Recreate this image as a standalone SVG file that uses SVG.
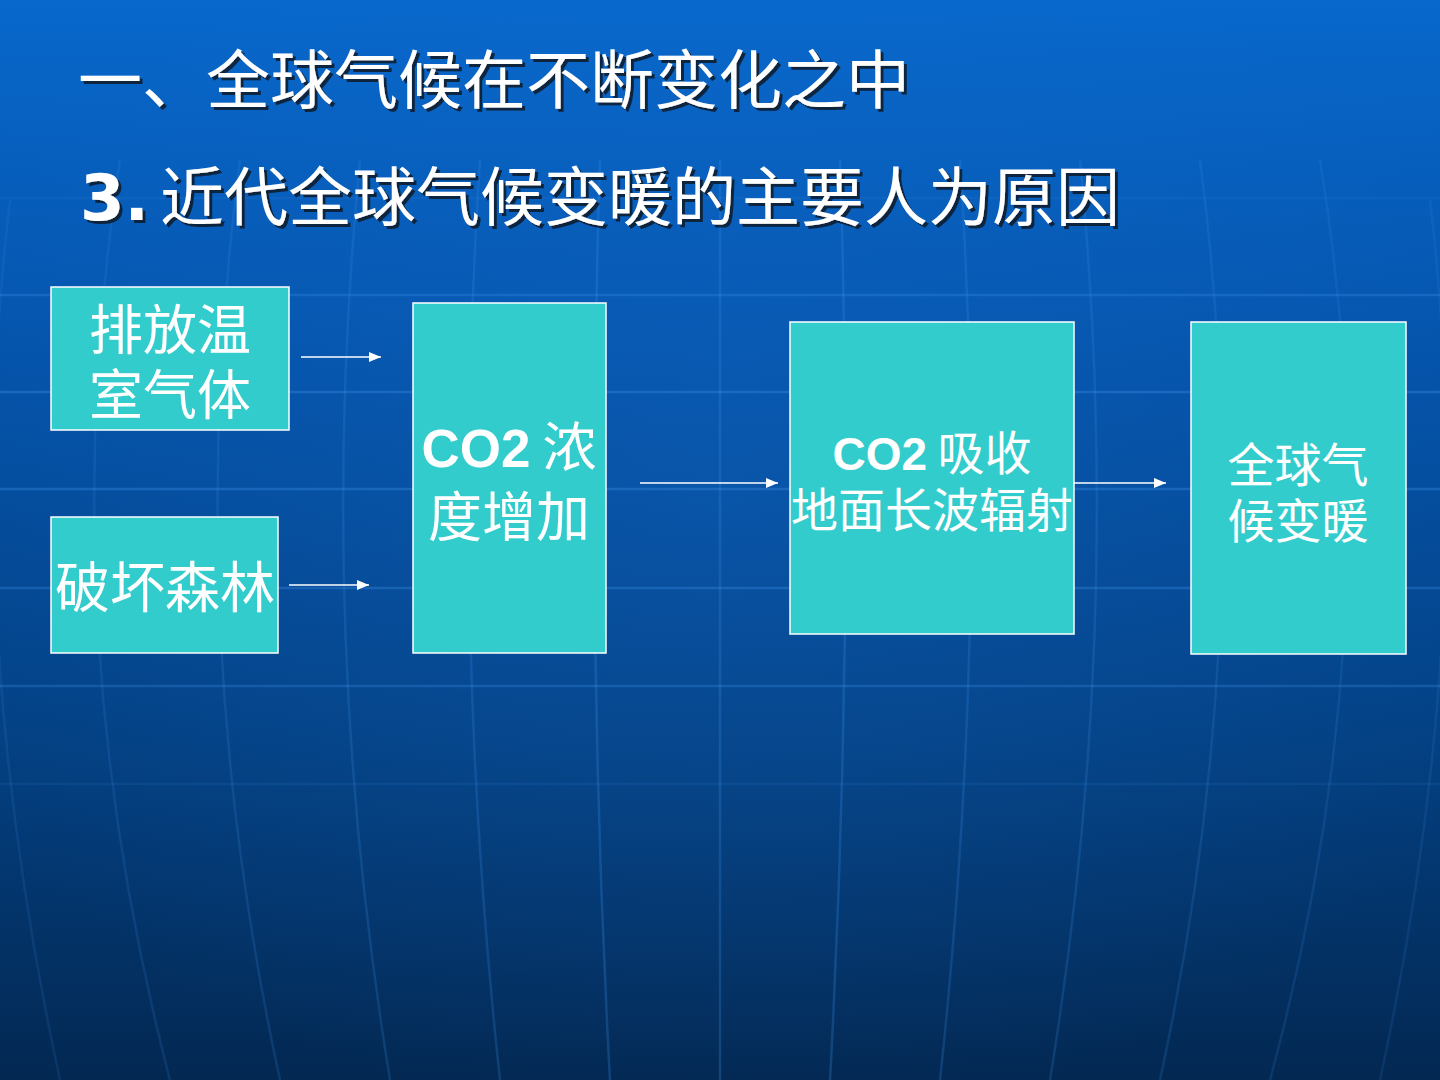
<svg xmlns="http://www.w3.org/2000/svg" width="1440" height="1080" viewBox="0 0 1440 1080">
<defs>
<linearGradient id="bg" x1="0" y1="0" x2="0" y2="1">
<stop offset="0" stop-color="#0868cc"/>
<stop offset="0.35" stop-color="#0452a8"/>
<stop offset="0.7" stop-color="#033f80"/>
<stop offset="1" stop-color="#032852"/>
</linearGradient>
<radialGradient id="glow" cx="0.5" cy="0.45" r="0.6">
<stop offset="0" stop-color="#1a70d0" stop-opacity="0.25"/>
<stop offset="1" stop-color="#1a70d0" stop-opacity="0"/>
</radialGradient>
<marker id="ah" viewBox="0 0 12 10" refX="12" refY="5" markerWidth="12" markerHeight="10" markerUnits="userSpaceOnUse" orient="auto">
<path d="M0,0 L12,5 L0,10 z" fill="#ffffff"/>
</marker>
<filter id="sh" x="-5%" y="-20%" width="110%" height="140%">
<feDropShadow dx="3" dy="3" stdDeviation="0.6" flood-color="#0a1a30" flood-opacity="0.9"/>
</filter>
</defs>
<style>
.box{fill:#33cccc;stroke:#ffffff;stroke-width:1.5}
.t{font-family:"Noto Sans CJK SC","Liberation Sans",sans-serif;fill:#ffffff;text-anchor:middle}
.title{font-family:"Noto Sans CJK SC","Liberation Sans",sans-serif;fill:#ffffff;font-size:64px}
.b{font-family:"Liberation Sans","Noto Sans CJK SC",sans-serif;font-weight:bold}
.v{font-family:"DejaVu Sans","Liberation Sans",sans-serif;font-weight:bold}
.con line{stroke:#ffffff;stroke-width:1.5;marker-end:url(#ah)}
.grid{fill:none;stroke:#3d8fe6;stroke-width:2.5}
</style>
<rect x="0" y="0" width="1440" height="1080" fill="url(#bg)"/>
<rect x="0" y="0" width="1440" height="1080" fill="url(#glow)"/>
<g id="background-grid" class="grid">
<line x1="0" y1="198" x2="1440" y2="198" opacity="0.12"/>
<line x1="0" y1="295" x2="1440" y2="295" opacity="0.3"/>
<line x1="0" y1="392" x2="1440" y2="392" opacity="0.35"/>
<line x1="0" y1="489" x2="1440" y2="489" opacity="0.35"/>
<line x1="0" y1="588" x2="1440" y2="588" opacity="0.32"/>
<line x1="0" y1="686" x2="1440" y2="686" opacity="0.3"/>
<line x1="0" y1="784" x2="1440" y2="784" opacity="0.12"/>
<path d="M720,160 L720,1080" opacity="0.25"/>
<path d="M600,160 Q585,620 610,1080" opacity="0.25"/>
<path d="M840,160 Q855,620 830,1080" opacity="0.25"/>
<path d="M480,160 Q450,620 500,1080" opacity="0.22"/>
<path d="M960,160 Q990,620 940,1080" opacity="0.22"/>
<path d="M360,160 Q315,620 390,1080" opacity="0.2"/>
<path d="M1080,160 Q1125,620 1050,1080" opacity="0.2"/>
<path d="M240,160 Q180,620 280,1080" opacity="0.18"/>
<path d="M1200,160 Q1260,620 1160,1080" opacity="0.18"/>
<path d="M120,160 Q50,620 170,1080" opacity="0.16"/>
<path d="M1320,160 Q1395,620 1270,1080" opacity="0.16"/>
<path d="M10,200 Q-40,620 60,1080" opacity="0.14"/>
<path d="M1430,200 Q1480,620 1380,1080" opacity="0.14"/>
</g>
<g id="titles" filter="url(#sh)">
<text class="title" x="78" y="103">一、全球气候在不断变化之中</text>
<text class="title" x="80" y="220"><tspan class="v">3.</tspan><tspan x="160">近代全球气候变暖的主要人为原因</tspan></text>
</g>
<g id="connectors" class="con">
<line x1="301" y1="357" x2="381" y2="357"/>
<line x1="289" y1="585" x2="369" y2="585"/>
<line x1="640" y1="483" x2="778" y2="483"/>
<line x1="1074" y1="483" x2="1166" y2="483"/>
</g>
<g id="node-emit">
<rect class="box" x="51" y="287" width="238" height="143"/>
<text class="t" font-size="54"><tspan x="170" y="350">排放温</tspan><tspan x="170" y="415">室气体</tspan></text>
</g>
<g id="node-forest">
<rect class="box" x="51" y="517" width="227" height="136"/>
<text class="t" x="165" y="607" font-size="55">破坏森林</text>
</g>
<g id="node-co2-increase">
<rect class="box" x="413" y="303" width="193" height="350"/>
<text class="t" font-size="54"><tspan x="509" y="467"><tspan class="b" font-size="53">CO2</tspan> 浓</tspan><tspan x="509" y="537">度增加</tspan></text>
</g>
<g id="node-co2-absorb">
<rect class="box" x="790" y="322" width="284" height="312"/>
<text class="t" font-size="47"><tspan x="932" y="470"><tspan class="b" font-size="46">CO2</tspan> 吸收</tspan><tspan x="932" y="527">地面长波辐射</tspan></text>
</g>
<g id="node-warming">
<rect class="box" x="1191" y="322" width="215" height="332"/>
<text class="t" font-size="47"><tspan x="1298" y="482">全球气</tspan><tspan x="1298" y="538">候变暖</tspan></text>
</g>
</svg>
